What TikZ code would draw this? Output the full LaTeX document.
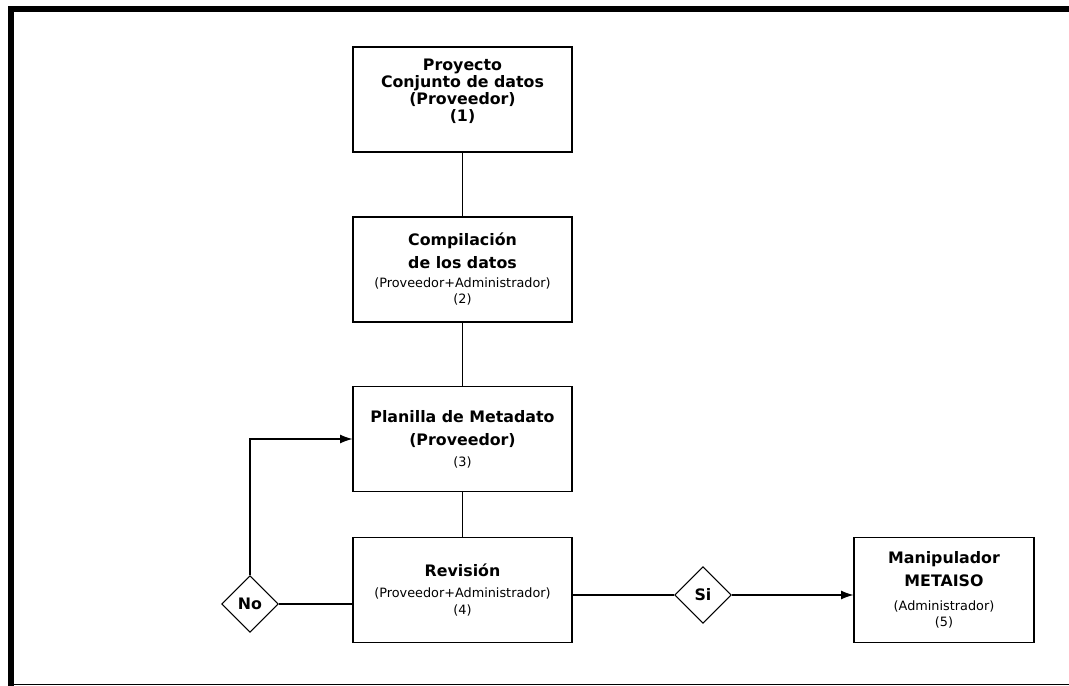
\documentclass[tikz,border=0pt]{standalone}
\usepackage{fontspec}
\setmainfont{DejaVu Sans}
\usetikzlibrary{shapes.geometric,arrows.meta}

\tikzset{
  caja/.style={draw, line width=0.6pt, minimum width=4.38cm, minimum height=2.1cm,
    align=center, inner sep=0pt, font=\fontsize{9}{13}\selectfont\bfseries},
  rombo/.style={draw, line width=0.6pt, diamond, aspect=1, minimum size=1.13cm,
    inner sep=0pt, font=\fontsize{9}{10}\selectfont\bfseries},
  linea/.style={line width=0.6pt},
  flecha/.style={line width=0.6pt, -{Latex[length=7pt,width=5pt]}}
}
\newcommand{\sub}{\fontsize{7.3}{8.8}\selectfont\mdseries}

\begin{document}
\begin{tikzpicture}

  \useasboundingbox (0,0) rectangle (21.38,-13.72);

  % Frame
  \fill (0.16,-0.12) rectangle (0.28,-13.72);
  \fill (0.16,-0.12) rectangle (21.38,-0.24);
  \draw[line width=0.6pt] (0.16,-13.69) -- (21.38,-13.69);

  % Boxes
  \node[caja, font=\fontsize{9}{9.7}\selectfont\bfseries] (proy) at (9.25,-1.99)
    {Proyecto\\Conjunto de datos\\(Proveedor)\\(1)\\[1pt]};
  \node[caja] (comp) at (9.25,-5.39)
    {Compilación\\de los datos\\[-2.5pt]\sub (Proveedor+Administrador)\\[-3.5pt]\sub (2)};
  \node[caja] (plan) at (9.25,-8.78)
    {Planilla de Metadato\\(Proveedor)\\[-1pt]\sub (3)};
  \node[caja] (rev) at (9.25,-11.8)
    {Revisión\\[-1pt]\sub (Proveedor+Administrador)\\[-3pt]\sub (4)};
  \node[caja, minimum width=3.6cm] (manip) at (18.88,-11.8)
    {Manipulador\\METAISO\\[0.5pt]\sub (Administrador)\\[-3.5pt]\sub (5)};

  % Decisions
  \node[rombo] (no) at (5.0,-12.08) {No};
  \node[rombo] (si) at (14.06,-11.9) {Si};

  % Connectors
  \draw[linea] (proy) -- (comp);
  \draw[linea] (comp) -- (plan);
  \draw[linea] (plan) -- (rev);
  \draw[linea] (no.east) -- (no.east -| rev.west);
  \draw[flecha] (no.north) |- (plan.west);
  \draw[linea] (si.west -| rev.east) -- (si.west);
  \draw[flecha] (si.east) -- (si.east -| manip.west);

\end{tikzpicture}
\end{document}
